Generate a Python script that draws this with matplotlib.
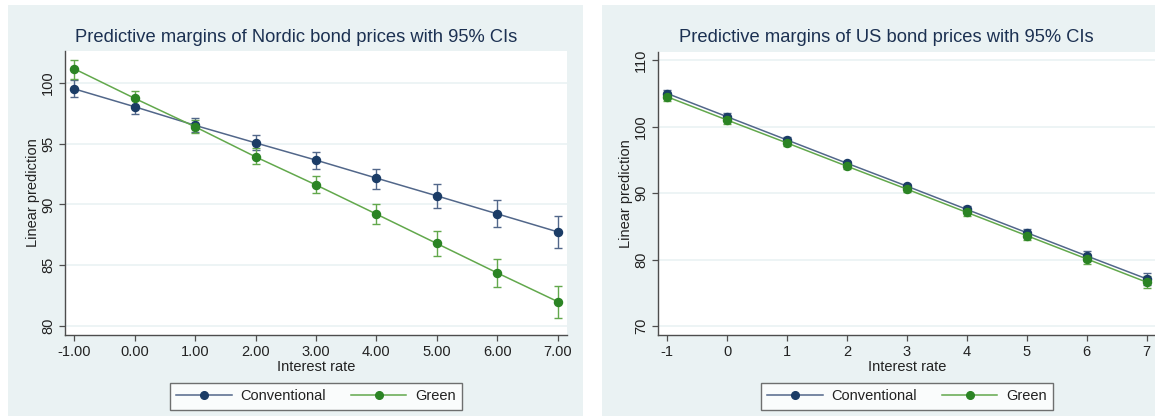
import numpy as np
import matplotlib
matplotlib.use("Agg")
import matplotlib.pyplot as plt
from matplotlib.patches import Rectangle

plt.rcParams['font.family'] = ['Liberation Sans', 'DejaVu Sans']

# data
rates = [-1, 0, 1, 2, 3, 4, 5, 6, 7]

# Nordic panel
nordic_conv = [99.50, 98.03, 96.50, 95.06, 93.64, 92.16, 90.70, 89.22, 87.74]
nordic_conv_lo = [98.80, 97.40, 95.95, 94.45, 92.90, 91.30, 89.70, 88.10, 86.40]
nordic_conv_hi = [100.20, 98.65, 97.10, 95.70, 94.30, 92.95, 91.65, 90.35, 89.05]
nordic_green = [101.15, 98.72, 96.38, 93.91, 91.60, 89.20, 86.78, 84.36, 82.00]
nordic_green_lo = [100.35, 98.10, 95.85, 93.30, 90.90, 88.35, 85.75, 83.20, 80.65]
nordic_green_hi = [101.90, 99.35, 96.95, 94.60, 92.30, 90.00, 87.80, 85.50, 83.30]

# US panel
us_conv = [105.00, 101.50, 98.00, 94.50, 91.05, 87.55, 84.05, 80.55, 77.10]
us_conv_lo = [104.40, 101.00, 97.55, 94.10, 90.65, 87.10, 83.50, 79.85, 76.25]
us_conv_hi = [105.60, 102.00, 98.45, 94.90, 91.45, 88.00, 84.60, 81.25, 77.95]
us_green = [104.50, 101.00, 97.55, 94.05, 90.60, 87.10, 83.60, 80.10, 76.60]
us_green_lo = [103.80, 100.40, 97.05, 93.60, 90.15, 86.60, 83.00, 79.35, 75.70]
us_green_hi = [105.20, 101.60, 98.05, 94.50, 91.05, 87.60, 84.20, 80.85, 77.50]

nordic_yticks = [80, 85, 90, 95, 100]
us_yticks = [70, 80, 90, 100, 110]
nordic_xlabels = ["-1.00", "0.00", "1.00", "2.00", "3.00", "4.00", "5.00", "6.00", "7.00"]
us_xlabels = ["-1", "0", "1", "2", "3", "4", "5", "6", "7"]

BG = '#EAF2F3'
NAVY_M = '#1B3C66'
NAVY_L = '#52678A'
GREEN_M = '#2B8424'
GREEN_L = '#62A84C'
TITLE_C = '#1C3152'
AXIS_C = '#4D4D4D'

W, H = 1155, 419
fig = plt.figure(figsize=(W / 100, H / 100), dpi=100)
fig.patch.set_facecolor('white')


def px(x0, y0, x1, y1):
    # pixel box (top-left origin) -> figure fraction rect
    return [x0 / W, 1 - y1 / H, (x1 - x0) / W, (y1 - y0) / H]


def draw_panel(bg_box, ax_box, title, title_x, xlabels, yticks, ylim,
               conv, conv_lo, conv_hi, green, green_lo, green_hi):
    r = px(*bg_box)
    fig.patches.append(Rectangle((r[0], r[1]), r[2], r[3], transform=fig.transFigure,
                                 facecolor=BG, edgecolor='none', zorder=-10))
    ax = fig.add_axes(px(*ax_box))
    ax.set_facecolor('white')
    ax.set_xlim(-1.155, 7.155)
    ax.set_ylim(*ylim)

    for vals, lo, hi, mc, lc, lab in [(conv, conv_lo, conv_hi, NAVY_M, NAVY_L, 'Conventional'),
                                      (green, green_lo, green_hi, GREEN_M, GREEN_L, 'Green')]:
        vals = np.array(vals)
        err = [vals - np.array(lo), np.array(hi) - vals]
        ax.errorbar(rates, vals, yerr=err, fmt='none', ecolor=lc, elinewidth=1.0,
                    capsize=3.2, capthick=1.0, zorder=2)
        ax.plot(rates, vals, color=lc, lw=1.1, marker='o', markersize=5.8,
                markerfacecolor=mc, markeredgecolor=mc, label=lab, zorder=3)

    ax.set_yticks(yticks)
    ax.set_yticklabels([str(t) for t in yticks], rotation=90, va='center')
    ax.set_xticks(rates)
    ax.set_xticklabels(xlabels)
    ax.grid(axis='y', color=BG, lw=1.2, zorder=0)
    ax.set_axisbelow(True)
    for s in ['top', 'right']:
        ax.spines[s].set_visible(False)
    for s in ['left', 'bottom']:
        ax.spines[s].set_color(AXIS_C)
        ax.spines[s].set_linewidth(1.0)
    ax.tick_params(axis='both', colors=AXIS_C, labelcolor='#222222', length=4,
                   width=0.9, labelsize=10.5, pad=3)
    ax.set_xlabel('Interest rate', fontsize=10.5, color='#222222', labelpad=1)
    ax.set_ylabel('Linear prediction', fontsize=10.5, color='#222222', labelpad=1)

    fig.text(title_x / W, 1 - 38 / H, title, fontsize=13.2, color=TITLE_C,
             ha='center', va='center')

    leg = ax.legend(loc='upper center', bbox_to_anchor=(0.5, -0.143), ncol=2,
                    frameon=True, fancybox=False, edgecolor='#4D4D4D', fontsize=10.5,
                    handlelength=3.8, handletextpad=0.6, columnspacing=1.7,
                    borderpad=0.45, markerscale=0.95)
    leg.get_frame().set_linewidth(1.0)
    for t in leg.get_texts():
        t.set_color('#222222')
    return ax


draw_panel((8, 5, 583, 416), (65, 51, 567, 335),
           'Predictive margins of Nordic bond prices with 95% CIs', 296,
           nordic_xlabels, nordic_yticks, (79.25, 102.62),
           nordic_conv, nordic_conv_lo, nordic_conv_hi,
           nordic_green, nordic_green_lo, nordic_green_hi)

draw_panel((602, 5, 1200, 416), (658, 52, 1156, 335),
           'Predictive margins of US bond prices with 95% CIs', 886,
           us_xlabels, us_yticks, (68.65, 111.25),
           us_conv, us_conv_lo, us_conv_hi,
           us_green, us_green_lo, us_green_hi)

fig.savefig('out.png', dpi=100, facecolor='white')
